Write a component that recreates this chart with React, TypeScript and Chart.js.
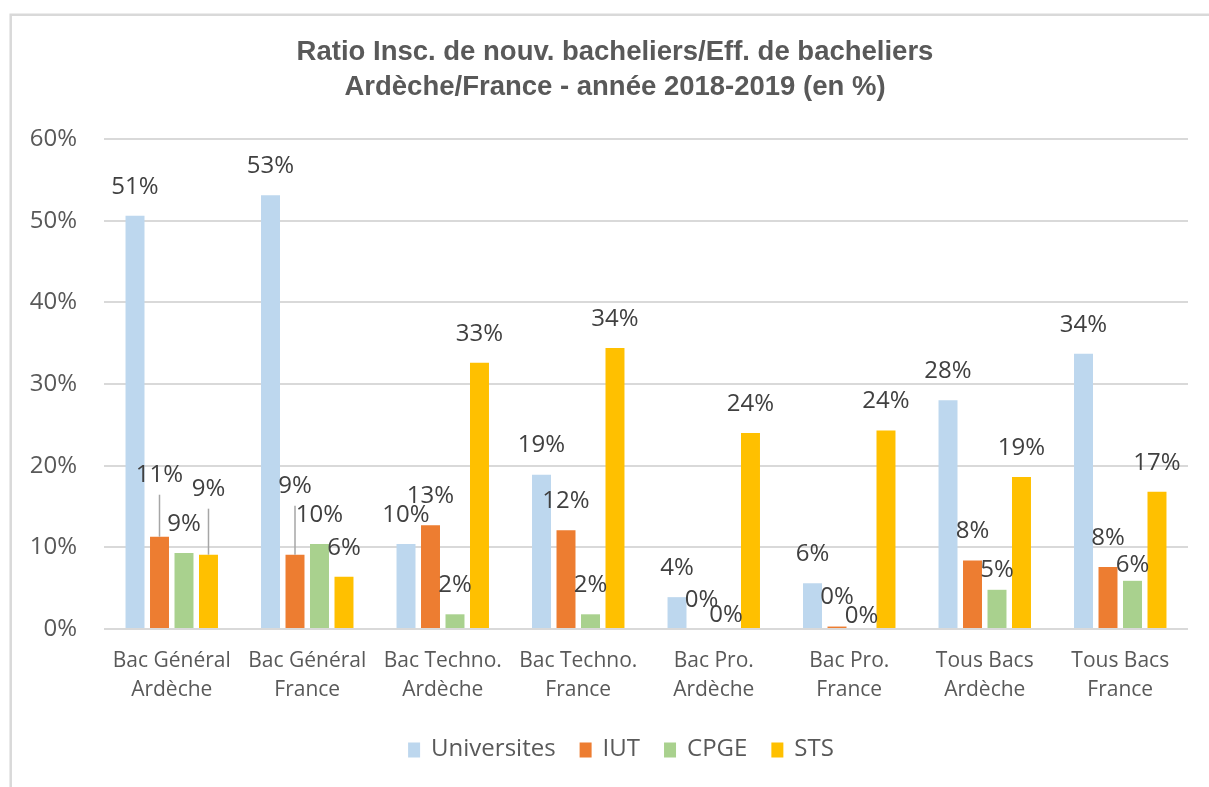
import React, { useEffect, useRef } from "react";
import { Chart, registerables } from "chart.js";

Chart.register(...registerables);

// ---- Data ----
const categories: string[][] = [
  ["Bac Général", "Ardèche"],
  ["Bac Général", "France"],
  ["Bac Techno.", "Ardèche"],
  ["Bac Techno.", "France"],
  ["Bac Pro.", "Ardèche"],
  ["Bac Pro.", "France"],
  ["Tous Bacs", "Ardèche"],
  ["Tous Bacs", "France"],
];
const seriesNames = ["Universites", "IUT", "CPGE", "STS"];
const universites = [50.6, 53.1, 10.4, 18.9, 3.9, 5.6, 28.0, 33.7];
const iut = [11.3, 9.1, 12.7, 12.1, 0, 0.3, 8.4, 7.6];
const cpge = [9.3, 10.4, 1.8, 1.8, 0, 0, 4.8, 5.9];
const sts = [9.1, 6.4, 32.6, 34.4, 24.0, 24.3, 18.6, 16.8];
const yTickValues = [0, 10, 20, 30, 40, 50, 60];
const titleLines = [
  "Ratio Insc. de nouv. bacheliers/Eff. de bacheliers",
  "Ardèche/France - année 2018-2019 (en %)",
];

// ---- Styles ----
const colors = ["#BDD7EE", "#ED7D31", "#A9D18E", "#FFC000"];
const FONT = '"Open Sans", "Liberation Sans", Arial, sans-serif';
const TITLE_FONT = '"Liberation Sans", Arial, sans-serif';
const GRID = "#D9D9D9";
const TEXT = "#595959";
const LABEL = "#404040";
// per-series label vertical nudges (px, positive = down) and leader flags
const labelNudge: number[][] = [
  [0, 0, 0, 0, 0, 0, 0, 0],
  [-33, -40, 0, 0, 0, 0, 0, 0],
  [0, 0, 0, 0, 15, 16, 9, 13],
  [-37, 0, 0, 0, 0, 0, 0, 0],
];
const leader: boolean[][] = [
  [false, false, false, false, false, false, false, false],
  [true, true, false, false, false, false, false, false],
  [false, false, false, false, false, false, false, false],
  [true, false, false, false, false, false, false, false],
];

const framePlugin = {
  id: "frame",
  beforeDraw(chart: any) {
    const ctx = chart.ctx;
    ctx.save();
    ctx.fillStyle = "#FFFFFF";
    ctx.fillRect(0, 0, chart.width, chart.height);
    ctx.strokeStyle = GRID;
    ctx.lineWidth = 2.5;
    ctx.beginPath();
    ctx.moveTo(10.7, chart.height);
    ctx.lineTo(10.7, 14.7);
    ctx.lineTo(chart.width, 14.7);
    ctx.stroke();
    ctx.restore();
  },
  afterDraw(chart: any) {
    const ctx = chart.ctx;
    ctx.save();
    ctx.font = `bold 27.5px ${TITLE_FONT}`;
    ctx.fillStyle = TEXT;
    ctx.textAlign = "center";
    ctx.textBaseline = "middle";
    titleLines.forEach((line, i) => {
      ctx.fillText(line, 615, 52.5 + i * 34.7);
    });
    ctx.restore();
  },
};

const dataLabelPlugin = {
  id: "dataLabels",
  afterDatasetsDraw(chart: any) {
    const ctx = chart.ctx;
    ctx.save();
    ctx.font = `24px ${FONT}`;
    ctx.textAlign = "center";
    ctx.textBaseline = "middle";
    chart.data.datasets.forEach((ds: any, i: number) => {
      const meta = chart.getDatasetMeta(i);
      meta.data.forEach((bar: any, j: number) => {
        const v = ds.data[j];
        const y = bar.y - 29 + labelNudge[i][j];
        if (leader[i][j]) {
          ctx.strokeStyle = "#A6A6A6";
          ctx.lineWidth = 1.5;
          ctx.beginPath();
          ctx.moveTo(bar.x, y + 20);
          ctx.lineTo(bar.x, bar.y);
          ctx.stroke();
        }
        ctx.fillStyle = LABEL;
        ctx.fillText(`${Math.round(v)}%`, bar.x, y);
      });
    });
    ctx.restore();
  },
};

const legendPlugin = {
  id: "customLegend",
  afterDraw(chart: any) {
    const ctx = chart.ctx;
    ctx.save();
    ctx.font = `24px ${FONT}`;
    ctx.textBaseline = "middle";
    ctx.textAlign = "left";
    const boxW = 12, boxH = 15, gap = 11, itemGap = 24;
    const items = chart.data.datasets.map((ds: any) => ({
      label: ds.label,
      color: ds.backgroundColor,
      w: ctx.measureText(ds.label).width,
    }));
    const total =
      items.reduce((s: number, it: any) => s + boxW + gap + it.w, 0) +
      itemGap * (items.length - 1);
    let x = 621 - total / 2;
    const cy = 749;
    items.forEach((it: any) => {
      ctx.fillStyle = it.color;
      ctx.fillRect(x, cy - boxH / 2 + 1, boxW, boxH);
      x += boxW + gap;
      ctx.fillStyle = TEXT;
      ctx.fillText(it.label, x, cy);
      x += it.w + itemGap;
    });
    ctx.restore();
  },
};

export default function App() {
  const ref = useRef<HTMLCanvasElement | null>(null);
  useEffect(() => {
    if (!ref.current) return;
    const seriesData = [universites, iut, cpge, sts];
    const chart = new Chart(ref.current, {
      type: "bar",
      data: {
        labels: categories,
        datasets: seriesData.map((d, i) => ({
          label: seriesNames[i],
          data: d,
          backgroundColor: colors[i],
          borderWidth: 0,
          categoryPercentage: 0.723,
          barPercentage: 0.775,
        })),
      },
      options: {
        responsive: false,
        animation: false,
        devicePixelRatio: 1,
        layout: { padding: { left: 10, right: 21, top: 139, bottom: 0 } },
        plugins: {
          legend: { display: false },
          tooltip: { enabled: false },
          title: { display: false },
        },
        scales: {
          x: {
            grid: { display: false, drawTicks: false },
            border: { display: false },
            ticks: {
              color: TEXT,
              font: { family: FONT, size: 21, lineHeight: 28.5 / 21 },
              padding: 18,
              maxRotation: 0,
              autoSkip: false,
            },
            afterFit(scale: any) {
              scale.height = 158;
            },
          },
          y: {
            min: 0,
            max: 60,
            afterBuildTicks(scale: any) {
              scale.ticks = yTickValues.map((v) => ({ value: v }));
            },
            grid: { color: GRID, lineWidth: 2, drawTicks: false },
            border: { display: false },
            ticks: {
              color: TEXT,
              font: { family: FONT, size: 24 },
              padding: 27,
              callback: (v: any) => `${v}%`,
            },
            afterFit(scale: any) {
              scale.width = 94;
            },
          },
        },
      },
      plugins: [framePlugin, dataLabelPlugin, legendPlugin],
    });
    return () => chart.destroy();
  }, []);
  return (
    <div style={{ position: "absolute", left: 0, top: 0, width: 1209, height: 787, background: "#fff" }}>
      <canvas ref={ref} width={1209} height={787} />
    </div>
  );
}
